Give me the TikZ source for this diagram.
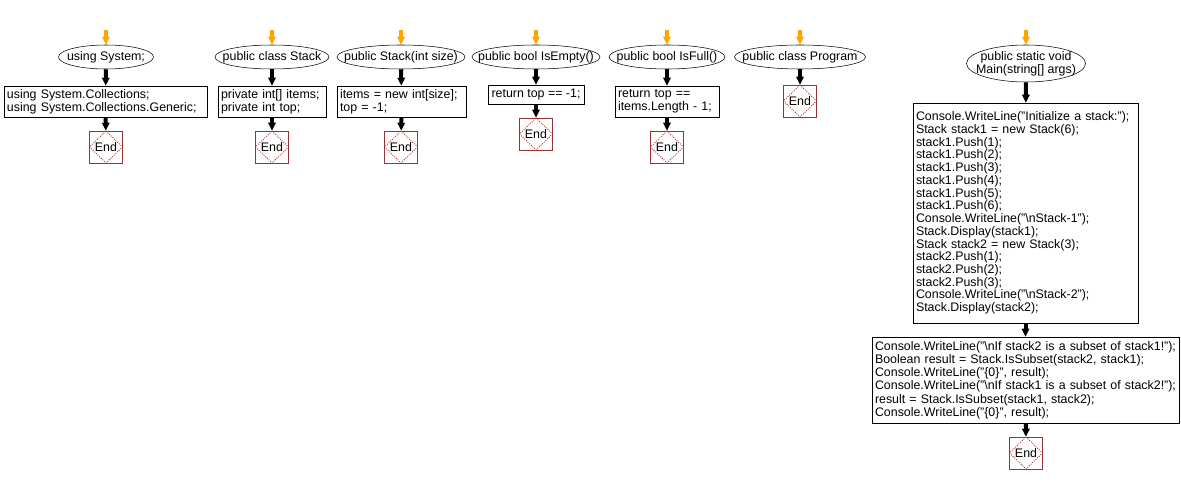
\documentclass[tikz,border=0pt]{standalone}
\usepackage{fontspec}
\setmainfont{Liberation Sans}
\usetikzlibrary{shapes.geometric,arrows.meta}
\definecolor{endred}{HTML}{993333}
\definecolor{diared}{HTML}{BB3333}
\definecolor{startor}{HTML}{FFA500}
\begin{document}
\begin{tikzpicture}[x=0.75pt,y=-0.75pt,
  font=\fontsize{9.3}{9.75}\selectfont,
  term/.style 2 args={ellipse, draw, thin, inner sep=0pt, minimum width=#1*0.75pt, minimum height=#2*0.75pt},
  codebox/.style={rectangle, draw, thin, inner xsep=2.25pt, inner ysep=0pt, align=left, text width=#1},
  endbox/.style={rectangle, draw=endred, thin, minimum width=24.75pt, minimum height=24pt, inner sep=0pt,
    path picture={\draw[diared, densely dotted, line width=0.7pt] (path picture bounding box.north) -- (path picture bounding box.east) -- (path picture bounding box.south) -- (path picture bounding box.west) -- cycle;}},
  flow/.style={draw=black, line width=3pt, -{Triangle[length=6pt,width=5.5pt]}},
  startflow/.style={draw=startor, line width=3pt, -{Triangle[length=6pt,width=5.5pt]}}
]
\useasboundingbox (0,0) rectangle (1181,484);

% column 1
\coordinate (s1) at (106,30);
\node[term={95}{24}, label=center:{using System;}] (e1) at (106,57) {};
\node[codebox=147.75pt, minimum height=23.25pt] (b1) at (105.5,101.5) {using System.Collections;\\using System.Collections.Generic;};
\node[endbox, label=center:End] (x1) at (106,147) {};
\draw[startflow] (s1) -- (e1);
\draw[flow] (e1) -- (b1);
\draw[flow] (b1) -- (x1);

% column 2
\coordinate (s2) at (272,30);
\node[term={114}{24}, label=center:{public class Stack}] (e2) at (272,57) {};
\node[codebox=76.5pt, minimum height=23.25pt] (b2) at (272,101.5) {private int[] items;\\private int top;};
\node[endbox, label=center:End] (x2) at (272,147) {};
\draw[startflow] (s2) -- (e2);
\draw[flow] (e2) -- (b2);
\draw[flow] (b2) -- (x2);

% column 3
\coordinate (s3) at (401,30);
\node[term={128}{24}, label=center:{public Stack(int size)}] (e3) at (401,57) {};
\node[codebox=92.25pt, minimum height=23.25pt] (b3) at (401.5,101.5) {items = new int[size];\\top = -1;};
\node[endbox, label=center:End] (x3) at (401,147) {};
\draw[startflow] (s3) -- (e3);
\draw[flow] (e3) -- (b3);
\draw[flow] (b3) -- (x3);

% column 4
\coordinate (s4) at (536,30);
\node[term={128}{24}, label=center:{public bool IsEmpty()}] (e4) at (536,57) {};
\node[rectangle, draw, thin, inner sep=0pt, minimum width=72pt, minimum height=14.25pt] (b4) at (536,94.5) {return top == -1;};
\node[endbox, label=center:End] (x4) at (536,134) {};
\draw[startflow] (s4) -- (e4);
\draw[flow] (e4) -- (b4);
\draw[flow] (b4) -- (x4);

% column 5
\coordinate (s5) at (667,30);
\node[term={116}{24}, label=center:{public bool IsFull()}] (e5) at (667,57) {};
\node[codebox=73.5pt, minimum height=23.25pt] (b5) at (667,101.5) {return top ==\\items.Length - 1;};
\node[endbox, label=center:End] (x5) at (667,147) {};
\draw[startflow] (s5) -- (e5);
\draw[flow] (e5) -- (b5);
\draw[flow] (b5) -- (x5);

% column 6
\coordinate (s6) at (800,30);
\node[term={131}{24}, label=center:{public class Program}] (e6) at (800,57) {};
\node[endbox, label=center:End] (x6) at (800,101) {};
\draw[startflow] (s6) -- (e6);
\draw[flow] (e6) -- (x6);

% column 7
\coordinate (s7) at (1026,30);
\node[term={119}{37}, label={[align=center]center:{public static void\\Main(string[] args)}}] (e7) at (1026,63.5) {};
\node[codebox=164.25pt, minimum height=165pt, font=\fontsize{9.3}{9.55}\selectfont] (b7) at (1025.5,213) {Console.WriteLine("Initialize a stack:");\\
Stack stack1 = new Stack(6);\\
stack1.Push(1);\\
stack1.Push(2);\\
stack1.Push(3);\\
stack1.Push(4);\\
stack1.Push(5);\\
stack1.Push(6);\\
Console.WriteLine("\textbackslash nStack-1");\\
Stack.Display(stack1);\\
Stack stack2 = new Stack(3);\\
stack2.Push(1);\\
stack2.Push(2);\\
stack2.Push(3);\\
Console.WriteLine("\textbackslash nStack-2");\\
Stack.Display(stack2);};
\node[codebox=225.75pt, minimum height=64.5pt, font=\fontsize{9.3}{9.9}\selectfont] (b8) at (1025.5,380) {Console.WriteLine("\textbackslash nIf stack2 is a subset of stack1!");\\
Boolean result = Stack.IsSubset(stack2, stack1);\\
Console.WriteLine("\{0\}", result);\\
Console.WriteLine("\textbackslash nIf stack1 is a subset of stack2!");\\
result = Stack.IsSubset(stack1, stack2);\\
Console.WriteLine("\{0\}", result);};
\node[endbox, label=center:End] (x7) at (1026,453) {};
\draw[startflow] (s7) -- (e7);
\draw[flow] (e7) -- (b7);
\draw[flow] (b7) -- (b8);
\draw[flow] (b8) -- (x7);
\end{tikzpicture}
\end{document}
